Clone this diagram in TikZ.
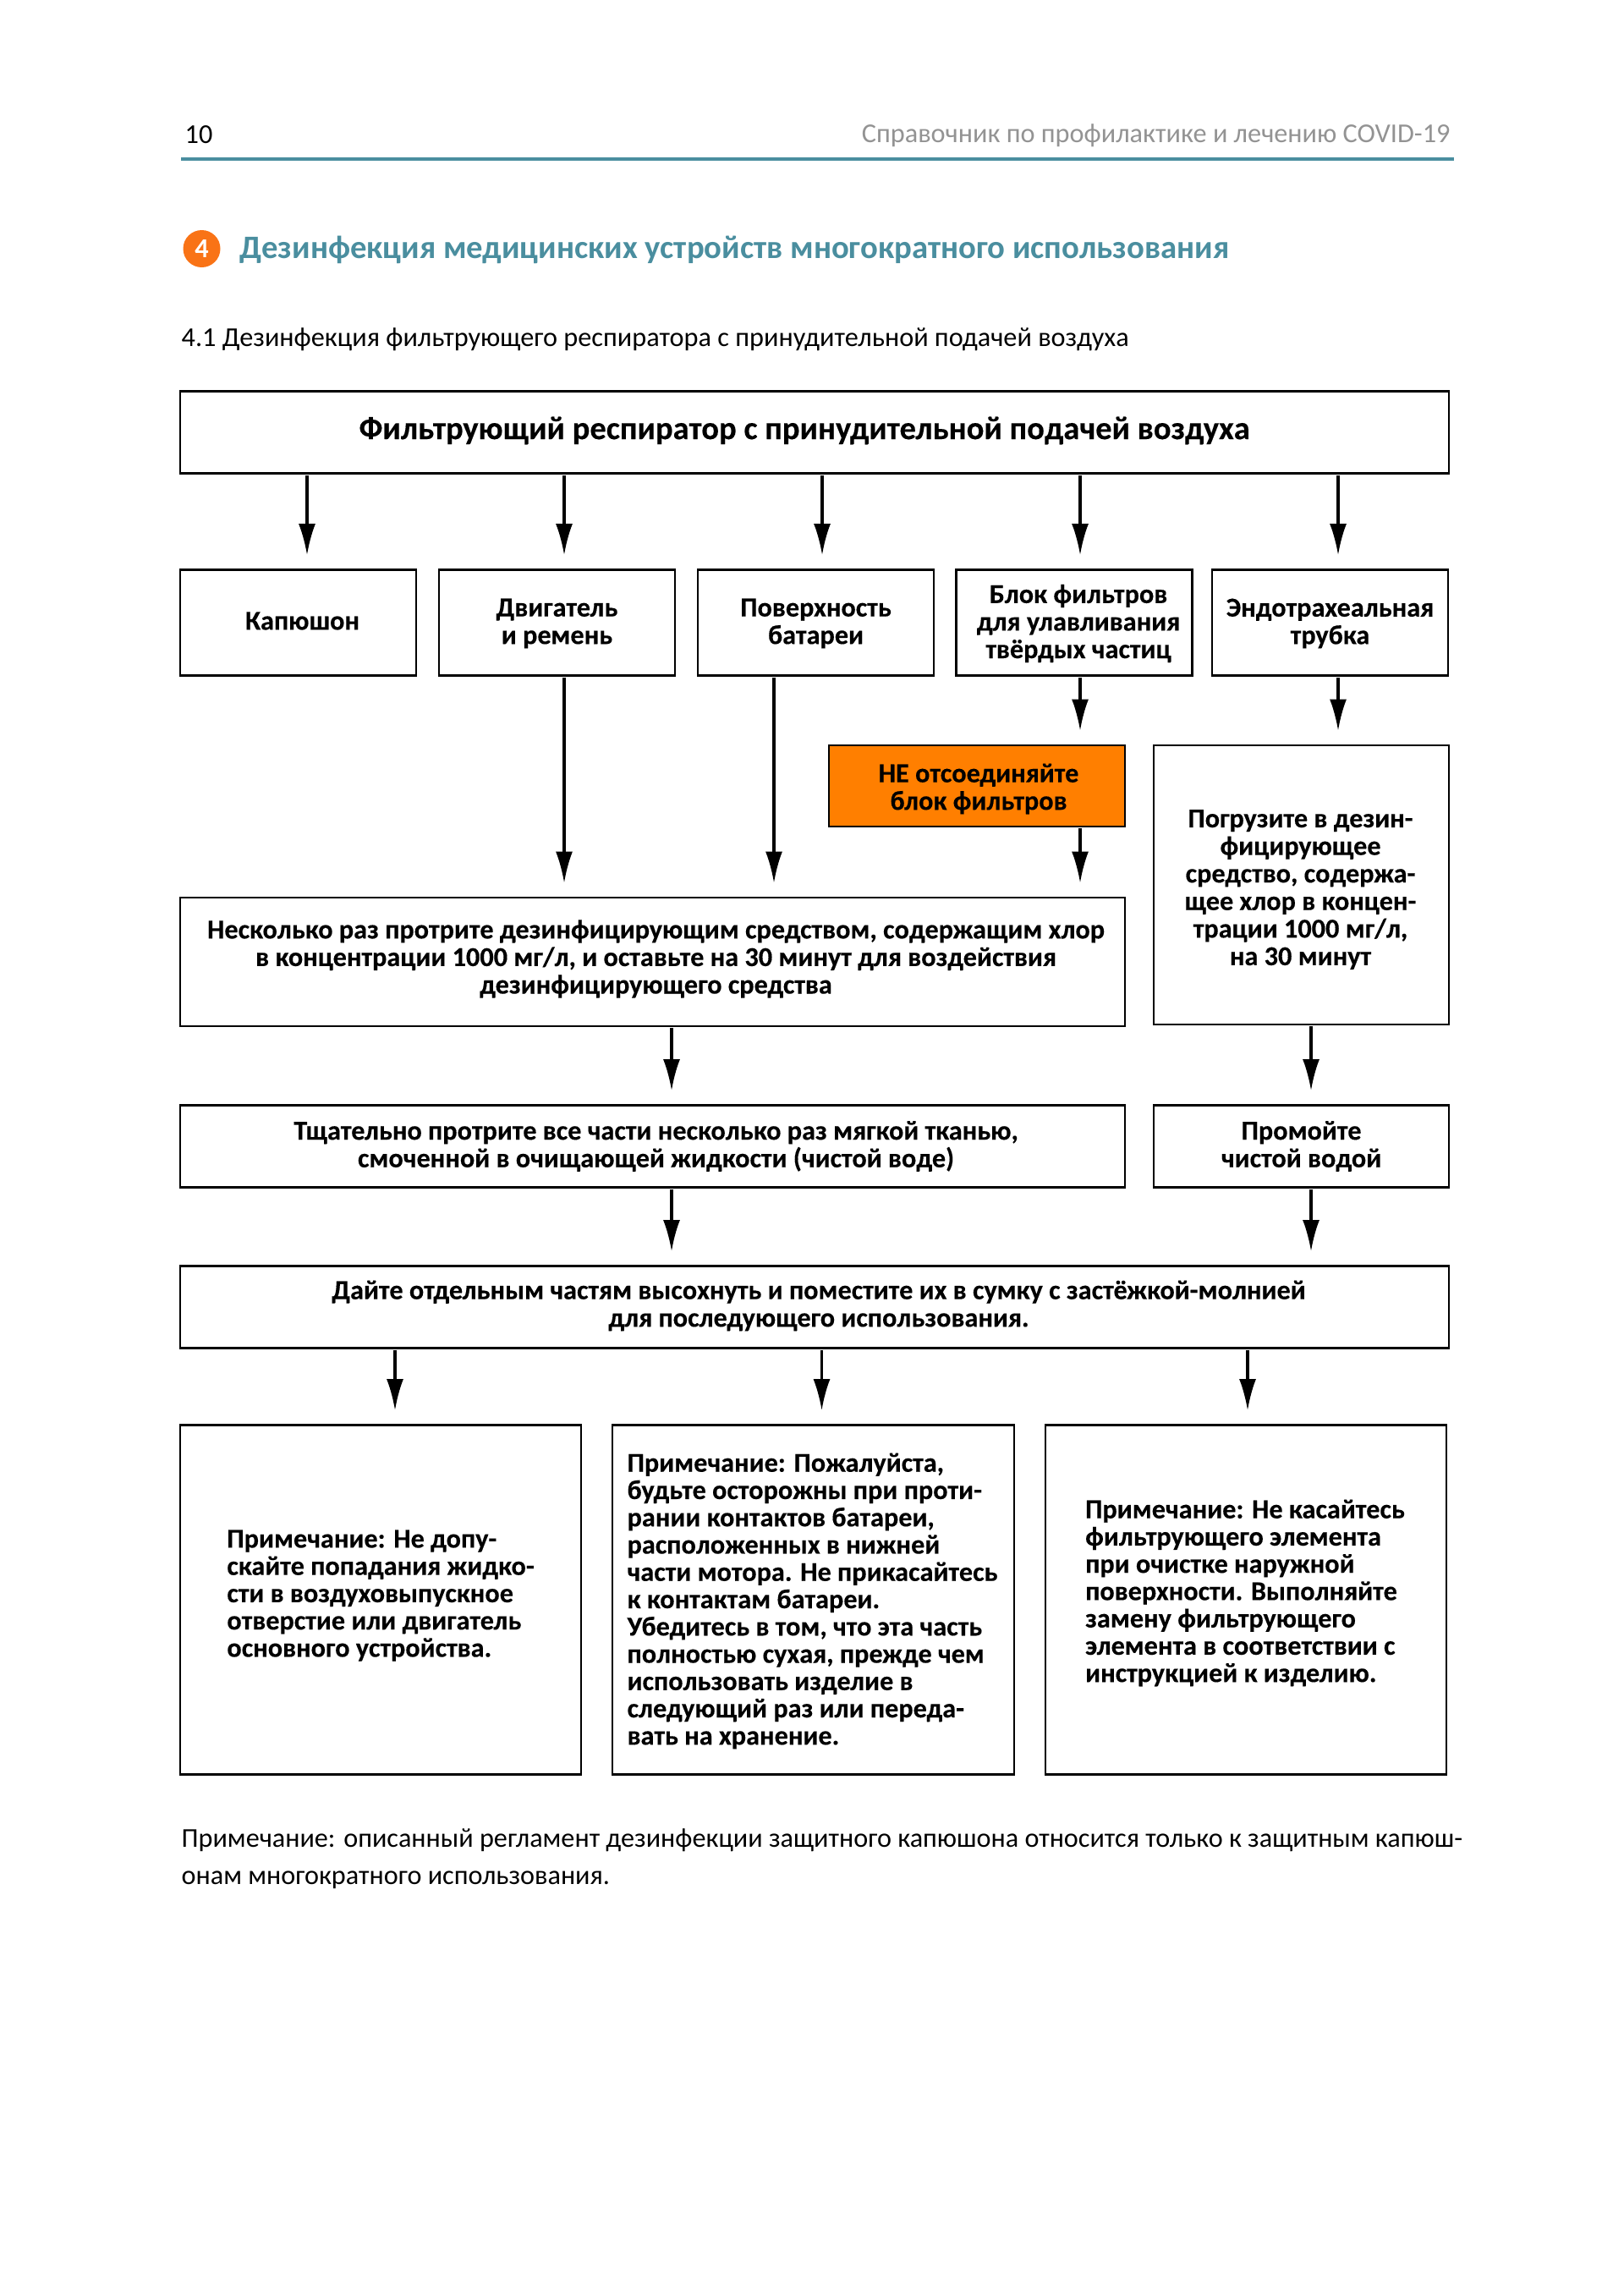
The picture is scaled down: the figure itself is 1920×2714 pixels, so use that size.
\documentclass[tikz,border=0pt]{standalone}
\usepackage{fontspec}
\setmainfont{Carlito}
\newfontfamily\boxfont{Carlito}[FakeBold=0.25]
\usetikzlibrary{arrows.meta}
\definecolor{teal1}{HTML}{4A8E9F}
\definecolor{orange1}{HTML}{FF7F00}
\definecolor{orange2}{HTML}{F97316}
\def\px{0.31pt}
\tikzset{
  >=latex,
  boxsize/.style 2 args={minimum width=#1*\px, minimum height=#2*\px},
  stepbox/.style={draw, line width=0.85pt, inner sep=0pt},
  lbl/.style={inner sep=0pt, align=center, font=\boxfont\bfseries\fontsize{10}{10.1}\selectfont},
  lblnote/.style={lbl, align=left, font=\boxfont\bfseries\fontsize{10}{10}\selectfont},
  txt/.style n args={3}{label={[lbl, xshift=#1*\px, yshift=-#2*\px]center:{#3}}},
  note/.style n args={3}{label={[lblnote, xshift=#1*\px, yshift=-#2*\px]center:{#3}}},
  flow/.style={line width=0.95pt, shorten <=0.3pt, shorten >=16*\px,
    -{Latex[length=11.5pt, width=6.2pt]}},
  plain/.style={anchor=west, inner sep=0pt, font=\fontsize{10}{10}\selectfont},
}

\begin{document}
\begin{tikzpicture}[x=0.31pt, y=-0.31pt]
\useasboundingbox (0,0) rectangle (1920,2714);
% page head
\node[plain] (page) at (218,159) {10};
\node[plain, anchor=east, text=gray!85] (book) at (1715,160) {Справочник по профилактике и лечению COVID-19};
\coordinate (ruleL) at (214,188);
\coordinate (ruleR) at (1719,188);
\draw[teal1, line width=1.1pt] (ruleL) -- (ruleR);
\node[circle, fill=orange2, minimum size=44*\px, inner sep=0pt, text=white, font=\bfseries\fontsize{10}{10}\selectfont] (num) at (238.5,294) {4};
\node[plain, text=teal1, font=\bfseries\fontsize{12}{12}\selectfont] (head) at (283,295) {Дезинфекция медицинских устройств многократного использования};
\node[plain] (sub) at (214,401) {4.1 Дезинфекция фильтрующего респиратора с принудительной подачей воздуха};

% boxes
\node[stepbox, boxsize={1500}{97}, label={[lbl, font=\boxfont\bfseries\fontsize{11.95}{12}\selectfont, xshift=-12*\px, yshift=2*\px]center:{Фильтрующий респиратор с принудительной подачей воздуха}}] (resp) at (963,511) {};
\node[stepbox, boxsize={279}{125}, txt={5}{-2}{Капюшон}] (hood) at (352.5,736) {};
\node[stepbox, boxsize={279}{125}, txt={0}{1}{Двигатель\\и ремень}] (motor) at (658.5,736) {};
\node[stepbox, boxsize={279}{125}, txt={0}{1}{Поверхность\\батареи}] (batt) at (964.5,736) {};
\node[stepbox, boxsize={279}{125}, txt={5}{1}{Блок фильтров\\для улавливания\\твёрдых частиц}] (filter) at (1270,736) {};
\node[stepbox, boxsize={279}{125}, txt={0}{1}{Эндотрахеальная\\трубка}] (tube) at (1572.5,736) {};
\node[stepbox, boxsize={350}{96}, fill=orange1, txt={2}{3.5}{НЕ отсоединяйте\\блок фильтров}] (keep) at (1155,929) {};
\node[stepbox, boxsize={349}{330}, txt={-1}{5.5}{Погрузите в дезин-\\фицирующее\\средство, содержа-\\щее хлор в концен-\\трации 1000 мг/л,\\на 30 минут}] (soak) at (1538.5,1046) {};
\node[stepbox, boxsize={1117}{152}, txt={4}{-3.5}{Несколько раз протрите дезинфицирующим средством, содержащим хлор\\в концентрации 1000 мг/л, и оставьте на 30 минут для воздействия\\дезинфицирующего средства}] (wipe) at (771.5,1137) {};
\node[stepbox, boxsize={1117}{97}, txt={4}{0}{Тщательно протрите все части несколько раз мягкой тканью,\\смоченной в очищающей жидкости (чистой воде)}] (cloth) at (771.5,1355) {};
\node[stepbox, boxsize={349}{97}, txt={0}{0}{Промойте\\чистой водой}] (rinse) at (1538.5,1355) {};
\node[stepbox, boxsize={1500}{97}, txt={5}{-1.5}{Дайте отдельным частям высохнуть и поместите их в сумку с застёжкой-молнией\\для последующего использования.}] (dry) at (963,1545) {};
\node[stepbox, boxsize={474}{413}, note={0}{-5}{Примечание: Не допу-\\скайте попадания жидко-\\сти в воздуховыпускное\\отверстие или двигатель\\основного устройства.}] (note1) at (450,1891) {};
\node[stepbox, boxsize={475}{413}, note={-1}{1.5}{Примечание: Пожалуйста,\\будьте осторожны при проти-\\рании контактов батареи,\\расположенных в нижней\\части мотора. Не прикасайтесь\\к контактам батареи.\\Убедитесь в том, что эта часть\\полностью сухая, прежде чем\\использовать изделие в\\следующий раз или переда-\\вать на хранение.}] (note2) at (961.5,1891) {};
\node[stepbox, boxsize={474}{413}, note={-1}{-8}{Примечание: Не касайтесь\\фильтрующего элемента\\при очистке наружной\\поверхности. Выполняйте\\замену фильтрующего\\элемента в соответствии с\\инструкцией к изделию.}] (note3) at (1473,1891) {};

% arrow columns
\coordinate (c1) at (363,0);
\coordinate (c2) at (667,0);
\coordinate (c3) at (972,0);
\coordinate (c4) at (1277,0);
\coordinate (c5) at (1582,0);
\coordinate (c6) at (915,0);
\coordinate (c7) at (794,0);
\coordinate (c8) at (1550,0);
\coordinate (c9) at (467,0);
\coordinate (c10) at (971.5,0);
\coordinate (c11) at (1475,0);

\foreach \n/\c in {hood/c1, motor/c2, batt/c3, filter/c4, tube/c5}
  \draw[flow] (resp.south -| \c) -- (\n.north -| \c);
\draw[flow] (filter.south -| c4) -- (keep.north -| c4);
\draw[flow] (tube.south -| c5) -- (soak.north -| c5);
\draw[flow] (keep.south -| c4) -- (wipe.north -| c4);
\draw[flow] (motor.south -| c2) -- (wipe.north -| c2);
\draw[flow] (batt.south -| c6) -- (wipe.north -| c6);
\draw[flow] (wipe.south -| c7) -- (cloth.north -| c7);
\draw[flow] (soak.south -| c8) -- (rinse.north -| c8);
\draw[flow] (cloth.south -| c7) -- (dry.north -| c7);
\draw[flow] (rinse.south -| c8) -- (dry.north -| c8);
\foreach \n/\c in {note1/c9, note2/c10, note3/c11}
  \draw[flow] (dry.south -| \c) -- (\n.north -| \c);

% foot note
\node[plain, font=\fontsize{9.98}{10}\selectfont] (foot1) at (214,2175) {Примечание: описанный регламент дезинфекции защитного капюшона относится только к защитным капюш-};
\node[plain, font=\fontsize{9.98}{10}\selectfont] (foot2) at (214,2222) {онам многократного использования.};
\end{tikzpicture}
\end{document}
